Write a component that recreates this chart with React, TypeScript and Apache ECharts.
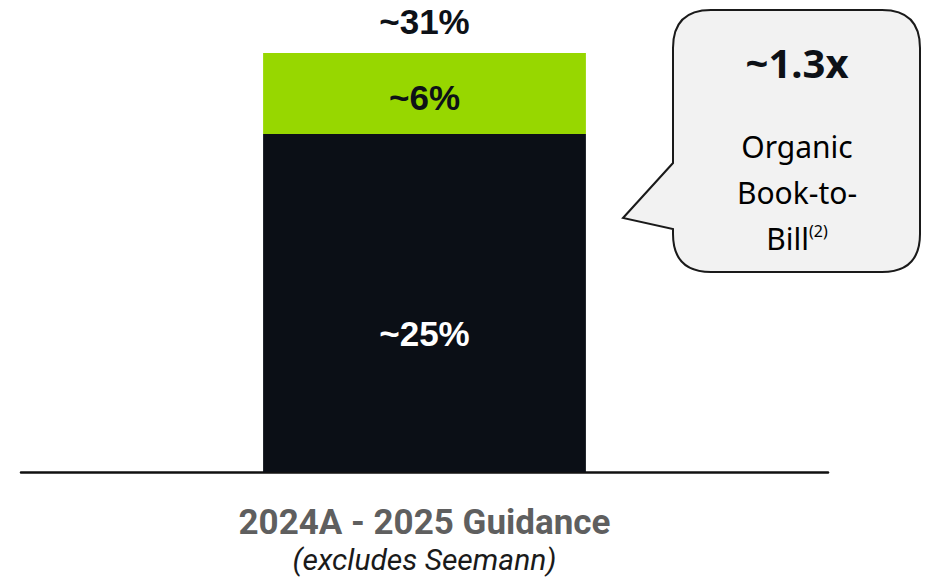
import React, { useEffect, useRef } from "react";
import * as echarts from "echarts";

const categories = ["2024A - 2025 Guidance"];
const subtitle = "(excludes Seemann)";
const baseValues = [25];
const incrementValues = [6];
const totalValues = [31];
const calloutValue = "~1.3x";
const calloutLines = ["Organic", "Book-to-", "Bill"];
const calloutNote = "(2)";

const bubblePath =
  "M 711 10 L 882 10 Q 920 10 920 48 L 920 234 Q 920 272 882 272 L 711 272 Q 673 272 673 234 L 673 229 L 623 218 L 673 163 L 673 48 Q 673 10 711 10 Z";

export default function App() {
  const ref = useRef<HTMLDivElement>(null);
  useEffect(() => {
    if (!ref.current) return;
    echarts.graphic.registerShape("bubble", echarts.graphic.extendPath(bubblePath, {}));
    const chart = echarts.init(ref.current, null, { renderer: "svg" });
    const labelFont = "'Liberation Sans', Arial, sans-serif";
    chart.setOption({
      animation: false,
      backgroundColor: "#ffffff",
      grid: { left: 21, right: 99, top: 53, bottom: 107, containLabel: false },
      xAxis: {
        type: "category",
        data: categories,
        axisLine: { show: true, lineStyle: { color: "#111111", width: 2.5 } },
        axisTick: { show: false },
        axisLabel: {
          margin: 30,
          interval: 0,
          formatter: (v: string) => `{a|${v}}\n{b|${subtitle}}`,
          rich: {
            a: { fontFamily: "Roboto, sans-serif", fontWeight: "bold", fontSize: 35, color: "#5f5f5f", lineHeight: 40 },
            b: { fontFamily: "Roboto, sans-serif", fontStyle: "italic", fontSize: 30, color: "#1a1a1a", lineHeight: 34 },
          },
        },
      },
      yAxis: { type: "value", min: 0, max: 31, show: false, splitLine: { show: false } },
      series: [
        {
          type: "bar",
          stack: "s",
          data: baseValues,
          barWidth: "40%",
          itemStyle: { color: "#0b0f16" },
          label: {
            show: true,
            position: "inside",
            offset: [0, 30],
            formatter: (p: any) => `~${p.value}%`,
            fontFamily: labelFont,
            fontWeight: "bold",
            fontSize: 35,
            color: "#ffffff",
          },
        },
        {
          type: "bar",
          stack: "s",
          data: incrementValues,
          barWidth: "40%",
          itemStyle: { color: "#97d700" },
          label: {
            show: true,
            position: "inside",
            offset: [0, 4],
            formatter: (p: any) => `~${p.value}%`,
            fontFamily: labelFont,
            fontWeight: "bold",
            fontSize: 35,
            color: "#0d1117",
          },
        },
        {
          type: "bar",
          stack: "s",
          data: totalValues.map(() => 0),
          barWidth: "40%",
          itemStyle: { color: "transparent" },
          label: {
            show: true,
            position: "top",
            distance: 14,
            formatter: (p: any) => `~${totalValues[p.dataIndex]}%`,
            fontFamily: labelFont,
            fontWeight: "bold",
            fontSize: 35,
            lineHeight: 35,
            color: "#0d1117",
          },
        },
      ],
      graphic: [
        {
          type: "bubble",
          x: 0,
          y: 0,
          style: { fill: "#f2f2f2", stroke: "#1a1a1a", lineWidth: 2 },
          z: 10,
        },
        {
          type: "text",
          x: 797,
          y: 62,
          z: 11,
          style: {
            text: calloutValue,
            align: "center",
            verticalAlign: "middle",
            fontFamily: "'Noto Sans', sans-serif",
            fontWeight: "bold",
            fontSize: 40,
            fill: "#0d1117",
          },
        },
        ...calloutLines.map((t, i) => ({
          type: "text",
          x: 797,
          y: 146 + i * 46,
          z: 11,
          style: {
            text: i === calloutLines.length - 1 ? `{m|${t}}{s|${calloutNote}}` : `{m|${t}}`,
            align: "center",
            verticalAlign: "middle",
            rich: {
              m: { fontFamily: "'Noto Sans', sans-serif", fontSize: 30, color: "#1a1a1a" },
              s: { fontFamily: "'Noto Sans', sans-serif", fontSize: 16, color: "#1a1a1a", verticalAlign: "top", padding: [0, 0, 14, 0] },
            },
          },
        })),
      ],
    });
    return () => chart.dispose();
  }, []);
  return (
    <div
      ref={ref}
      style={{ position: "fixed", left: 0, top: 0, width: 927, height: 579 }}
    />
  );
}
